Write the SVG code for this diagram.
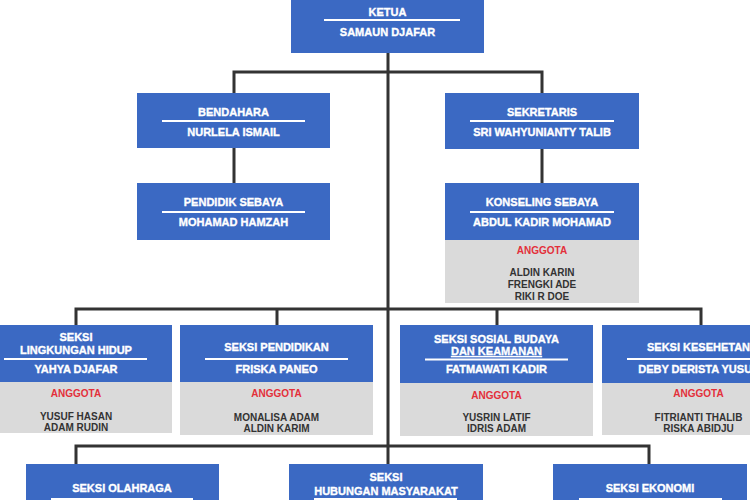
<svg xmlns="http://www.w3.org/2000/svg" width="750" height="500" viewBox="0 0 750 500">
<style>
.b{fill:#3b69c3}
.g{fill:#dadada}
.t{font-family:"Liberation Sans",Arial,sans-serif;font-weight:bold;font-size:11px;fill:#fff;stroke:#fff;stroke-width:0.35;text-anchor:middle}
.r{font-family:"Liberation Sans",Arial,sans-serif;font-weight:bold;font-size:10px;fill:#e3303a;text-anchor:middle}
.m{font-family:"Liberation Sans",Arial,sans-serif;font-weight:bold;font-size:10px;fill:#333;text-anchor:middle}
.w{stroke:#fff;stroke-width:2}
.c{stroke:#333;stroke-width:3;fill:none}
</style>
<rect width="750" height="500" fill="#fff"/>
<g id="connectors">
<path class="c" d="M388 53V464"/>
<path class="c" d="M234 183V72H542V183"/>
<path class="c" d="M76 325V309H701V325M277 309V325M497 309V325"/>
<path class="c" d="M76 464V446H649V464"/>
</g>
<g id="ketua">
<rect class="b" x="291" y="-7" width="193" height="60"/>
<text class="t" x="387.5" y="16">KETUA</text>
<line class="w" x1="324" y1="20" x2="460" y2="20"/>
<text class="t" x="387.5" y="36">SAMAUN DJAFAR</text>
</g>
<g id="bendahara">
<rect class="b" x="137" y="93" width="193" height="55"/>
<text class="t" x="233.5" y="116">BENDAHARA</text>
<line class="w" x1="162" y1="121" x2="305" y2="121"/>
<text class="t" x="233.5" y="136">NURLELA ISMAIL</text>
</g>
<g id="sekretaris">
<rect class="b" x="445" y="93" width="194" height="56"/>
<text class="t" x="542" y="116">SEKRETARIS</text>
<line class="w" x1="470" y1="121" x2="614" y2="121"/>
<text class="t" x="542" y="136">SRI WAHYUNIANTY TALIB</text>
</g>
<g id="pendidik">
<rect class="b" x="137" y="183" width="193" height="57"/>
<text class="t" x="233.5" y="206">PENDIDIK SEBAYA</text>
<line class="w" x1="162" y1="212" x2="305" y2="212"/>
<text class="t" x="233.5" y="226">MOHAMAD HAMZAH</text>
</g>
<g id="konseling">
<rect class="g" x="445" y="240" width="194" height="63"/>
<rect class="b" x="445" y="183" width="194" height="57"/>
<text class="t" x="542" y="206">KONSELING SEBAYA</text>
<line class="w" x1="470" y1="212" x2="614" y2="212"/>
<text class="t" x="542" y="226">ABDUL KADIR MOHAMAD</text>
<text class="r" x="542" y="254">ANGGOTA</text>
<text class="m" x="542" y="276">ALDIN KARIN</text>
<text class="m" x="542" y="288">FRENGKI ADE</text>
<text class="m" x="542" y="300">RIKI R DOE</text>
</g>
<g id="lingkungan">
<rect class="g" x="-21" y="382" width="193" height="51"/>
<rect class="b" x="-21" y="325" width="193" height="57"/>
<text class="t" x="76" y="341">SEKSI</text>
<text class="t" x="76" y="354">LINGKUNGAN HIDUP</text>
<line class="w" x1="4" y1="359" x2="147" y2="359"/>
<text class="t" x="76" y="373">YAHYA DJAFAR</text>
<text class="r" x="76" y="397">ANGGOTA</text>
<text class="m" x="76" y="420">YUSUF HASAN</text>
<text class="m" x="76" y="431">ADAM RUDIN</text>
</g>
<g id="pendidikan">
<rect class="g" x="180" y="382" width="193" height="53"/>
<rect class="b" x="180" y="325" width="193" height="57"/>
<text class="t" x="276.5" y="351">SEKSI PENDIDIKAN</text>
<line class="w" x1="205" y1="359" x2="348" y2="359"/>
<text class="t" x="276.5" y="373">FRISKA PANEO</text>
<text class="r" x="276.5" y="397">ANGGOTA</text>
<text class="m" x="276.5" y="421">MONALISA ADAM</text>
<text class="m" x="276.5" y="432">ALDIN KARIM</text>
</g>
<g id="sosial">
<rect class="g" x="400" y="383" width="193" height="53"/>
<rect class="b" x="400" y="325" width="193" height="58"/>
<text class="t" x="496.5" y="343">SEKSI SOSIAL BUDAYA</text>
<text class="t" x="496.5" y="355" text-decoration="underline">DAN KEAMANAN</text>
<line class="w" x1="425" y1="359.5" x2="568" y2="359.5"/>
<text class="t" x="496.5" y="373">FATMAWATI KADIR</text>
<text class="r" x="496.5" y="399">ANGGOTA</text>
<text class="m" x="496.5" y="421">YUSRIN LATIF</text>
<text class="m" x="496.5" y="432">IDRIS ADAM</text>
</g>
<g id="kesehatan">
<rect class="g" x="602" y="383" width="193" height="52"/>
<rect class="b" x="602" y="325" width="193" height="58"/>
<text class="t" x="698.5" y="351">SEKSI KESEHETAN</text>
<line class="w" x1="627" y1="359" x2="770" y2="359"/>
<text class="t" x="698.5" y="373">DEBY DERISTA YUSUF</text>
<text class="r" x="698.5" y="397">ANGGOTA</text>
<text class="m" x="698.5" y="421">FITRIANTI THALIB</text>
<text class="m" x="698.5" y="432">RISKA ABIDJU</text>
</g>
<g id="olahraga">
<rect class="b" x="26" y="464" width="193" height="60"/>
<text class="t" x="122" y="492">SEKSI OLAHRAGA</text>
<line class="w" x1="51" y1="499" x2="193" y2="499"/>
</g>
<g id="hubungan">
<rect class="b" x="289" y="464" width="194" height="60"/>
<text class="t" x="386" y="481">SEKSI</text>
<text class="t" x="386" y="495">HUBUNGAN MASYARAKAT</text>
<line class="w" x1="314" y1="499" x2="457" y2="499"/>
</g>
<g id="ekonomi">
<rect class="b" x="553" y="464" width="194" height="60"/>
<text class="t" x="650" y="492">SEKSI EKONOMI</text>
<line class="w" x1="579" y1="499" x2="722" y2="499"/>
</g>
</svg>
